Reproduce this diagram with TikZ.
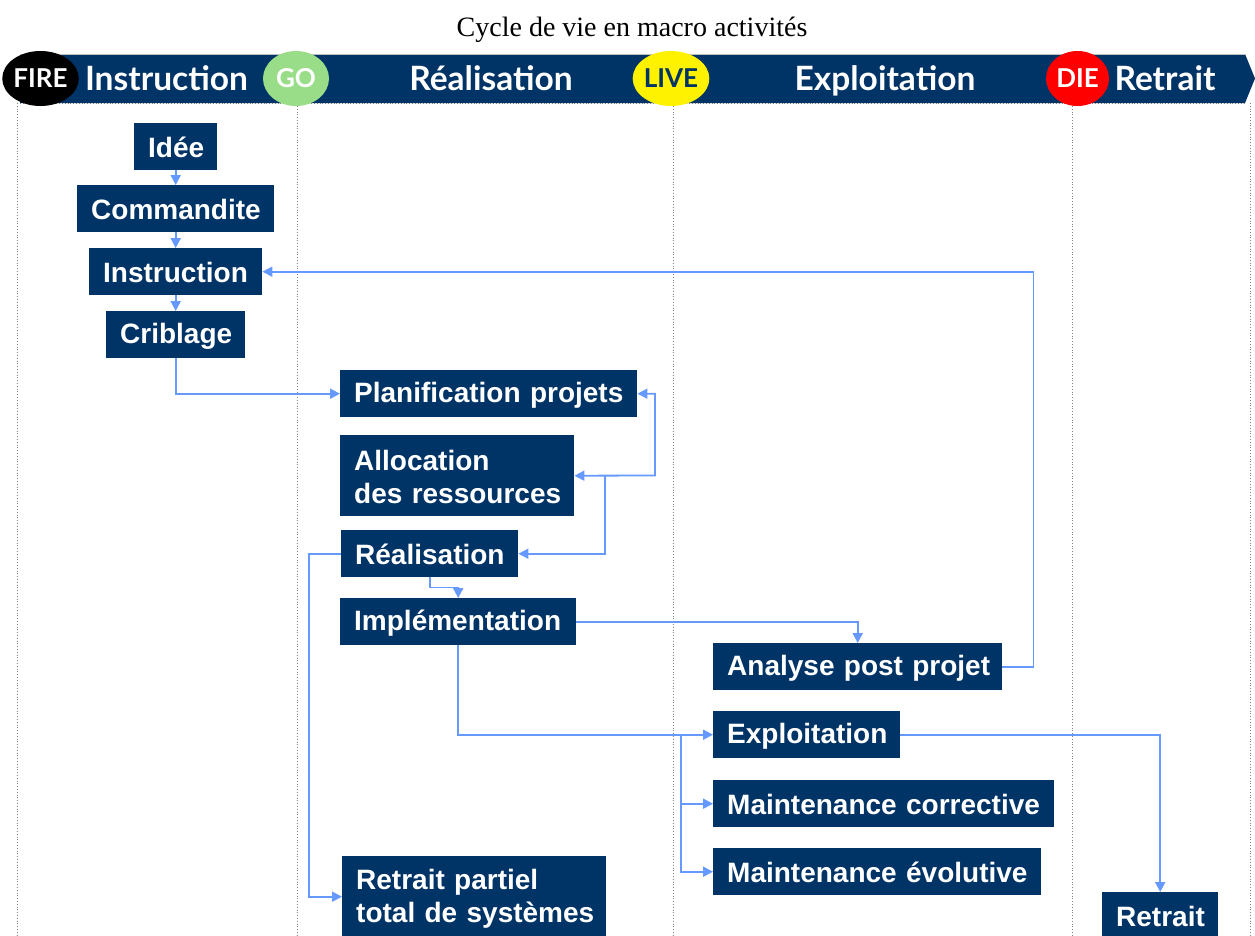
\documentclass[tikz,border=0pt]{standalone}
\usepackage{fontspec}
\setmainfont{Liberation Sans}
\newfontfamily\headfont{Lato}
\newfontfamily\titlefont{Liberation Serif}
\usetikzlibrary{arrows.meta,shapes.geometric}
\definecolor{navy}{RGB}{0,51,102}
\definecolor{link}{RGB}{102,153,255}
\definecolor{gogreen}{RGB}{153,221,136}
\newcommand\bxstrut{\rule[-2pt]{0pt}{26pt}}
\newcommand\bxline[1]{\mbox{\bxstrut #1}}
\tikzset{
  box/.style={fill=navy,text=white,font=\fontsize{28}{33}\selectfont\bfseries,
    anchor=north west,inner xsep=14pt,inner ysep=0pt,minimum height=47pt,align=left},
  tall/.style={minimum height=81pt},
  flow/.style={draw=link,line width=1.8pt,-{Triangle[length=10pt,width=10pt]}},
  flowboth/.style={draw=link,line width=1.8pt,{Triangle[length=10pt,width=10pt]}-{Triangle[length=10pt,width=10pt]}},
  lane/.style={draw=gray,dotted,line width=0.8pt},
  phase/.style={text=white,anchor=base,font=\headfont\fontsize{33.5}{33.5}\selectfont\bfseries},
  milestone/.style={ellipse,minimum width=66pt,minimum height=55pt,inner sep=0pt,
    font=\headfont\fontsize{26}{26}\selectfont\bfseries}
}
\begin{document}
\begin{tikzpicture}[x=1pt,y=-1pt]
\useasboundingbox (0,0) rectangle (1255,935);
\clip (0,0) rectangle (1255,935);

% title
\node[anchor=base,font=\titlefont\fontsize{28}{28}\selectfont] (title) at (632,36) {Cycle de vie en macro activités};

% lanes
\draw[lane] (17,103) -- (17,935);
\draw[lane] (297,106) -- (297,935);
\draw[lane] (673,106) -- (673,935);
\draw[lane] (1072,106) -- (1072,935);
\draw[lane] (1250,103) -- (1250,935);

% header band
\fill[navy] (20,54) -- (1245,54) -- (1255,78.5) -- (1245,103) -- (20,103) -- cycle;
\draw[gray!50,line width=0.8pt] (20,54) -- (1245,54);
\draw[lane] (20,103) -- (1245,103);

\node[phase] (phI) at (166.5,90.5) {Instruction};
\node[phase] (phR) at (491,90.5) {Réalisation};
\node[phase] (phE) at (885,90.5) {Exploitation};
\node[phase] (phT) at (1165,90.5) {Retrait};

\node[milestone,fill=black,text=white,minimum width=65pt] (fire) at (40.5,78.5) {FIRE};
\node[milestone,fill=gogreen,text=white] (go) at (296,78.5) {GO};
\node[milestone,fill=yellow,text=navy] (live) at (671,78.5) {LIVE};
\node[milestone,fill=red,text=white,minimum width=63pt] (die) at (1077.5,78.5) {DIE};

% boxes
\node[box,text width=55pt] (idee) at (134,123) {\bxline{Idée}};
\node[box,text width=169pt] (comm) at (77,185) {\bxline{Commandite}};
\node[box,text width=145pt] (instr) at (89,248) {\bxline{Instruction}};
\node[box,text width=111pt] (crib) at (106,311) {\bxline{Criblage}};
\node[box,text width=269pt] (plan) at (340,370) {\bxline{Planification projets}};
\node[box,tall,text width=206pt] (alloc) at (340,435) {\bxline{Allocation}\\\bxline{des ressources}};
\node[box,text width=149pt] (real) at (341,530) {\bxline{Réalisation}};
\node[box,text width=208pt] (impl) at (340,598) {\bxline{Implémentation}};
\node[box,text width=261pt] (ana) at (713,643) {\bxline{Analyse post projet}};
\node[box,text width=159pt] (expl) at (713,711) {\bxline{Exploitation}};
\node[box,text width=313pt] (mc) at (713,780) {\bxline{Maintenance corrective}};
\node[box,text width=300pt] (me) at (713,848) {\bxline{Maintenance évolutive}};
\node[box,tall,text width=236pt] (retp) at (342,856) {\bxline{Retrait partiel}\\\bxline{total de systèmes}};
\node[box,text width=88pt] (ret) at (1102,892) {\bxline{Retrait}};

% connectors
\draw[flow] (idee.south) -- (comm.north);
\draw[flow] (comm.south) -- (instr.north);
\draw[flow] (instr.south) -- (crib.north);
\draw[flow] (crib.south) |- (plan.west);
\draw[flow] (ana.east) -- ++(31,0) |- (instr.east);
\coordinate (pa) at (655,475.5);
\draw[flowboth] (alloc.east) -- (pa) |- (plan.east);
\coordinate (ar) at (605,475.5);
\draw[flow] (ar) |- (real.east);
\draw[flow] (real.south) -- ++(0,10) -| (impl.north);
\draw[flow] (real.west) -- ++(-32,0) |- (retp.west);
\draw[flow] (impl.east) -| (ana.north);
\draw[flow] (impl.south) |- (expl.west);
\coordinate (br) at (681,734.5);
\draw[flow] (br) |- (mc.west);
\draw[flow] (br) |- (me.west);
\draw[flow] (expl.east) -| (ret.north);
\end{tikzpicture}
\end{document}
